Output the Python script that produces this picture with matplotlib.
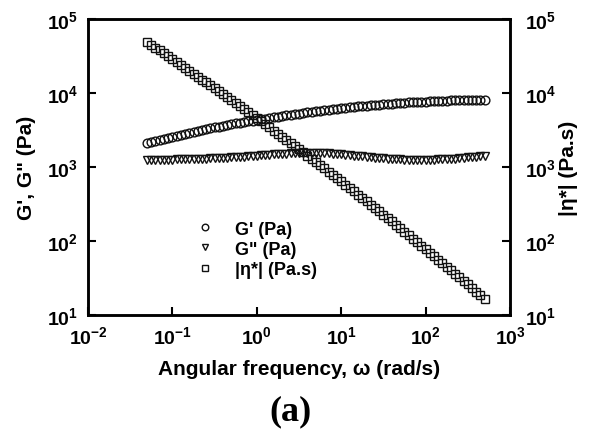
import numpy as np
import matplotlib
matplotlib.use("Agg")
import matplotlib.pyplot as plt

plt.rcParams['font.family'] = ['Liberation Sans', 'DejaVu Sans']
plt.rcParams['font.weight'] = 'bold'
plt.rcParams['mathtext.fontset'] = 'custom'
plt.rcParams['mathtext.rm'] = 'Liberation Sans:bold'
plt.rcParams['mathtext.it'] = 'Liberation Sans:bold:italic'
plt.rcParams['mathtext.bf'] = 'Liberation Sans:bold'
plt.rcParams['axes.unicode_minus'] = False

# angular frequency (rad/s)
omega = [0.0501, 0.0562, 0.0631, 0.0708, 0.0794, 0.0891, 0.1, 0.112, 0.126, 0.141,
         0.158, 0.178, 0.2, 0.224, 0.251, 0.282, 0.316, 0.355, 0.398, 0.447,
         0.501, 0.562, 0.631, 0.708, 0.794, 0.891, 1.0, 1.12, 1.26, 1.41,
         1.58, 1.78, 2.0, 2.24, 2.51, 2.82, 3.16, 3.55, 3.98, 4.47,
         5.01, 5.62, 6.31, 7.08, 7.94, 8.91, 10.0, 11.2, 12.6, 14.1,
         15.8, 17.8, 20.0, 22.4, 25.1, 28.2, 31.6, 35.5, 39.8, 44.7,
         50.1, 56.2, 63.1, 70.8, 79.4, 89.1, 100, 112, 126, 141,
         158, 178, 200, 224, 251, 282, 316, 355, 398, 447,
         501]

# storage modulus G' (Pa)
g1 = [2080, 2178, 2265, 2344, 2421, 2495, 2570, 2649, 2729, 2812,
      2891, 2972, 3062, 3148, 3236, 3327, 3420, 3524, 3614, 3698,
      3784, 3873, 3963, 4055, 4150, 4236, 4325, 4416, 4508, 4603,
      4699, 4797, 4898, 4989, 5082, 5176, 5272, 5370, 5470, 5559,
      5649, 5741, 5834, 5929, 6026, 6124, 6223, 6310, 6397, 6486,
      6577, 6668, 6745, 6823, 6902, 6982, 7063, 7129, 7194, 7261,
      7328, 7396, 7464, 7516, 7568, 7621, 7674, 7727, 7780, 7816,
      7852, 7889, 7925, 7962, 7998, 8035, 8072, 8091, 8110, 8128,
      8147]

# loss modulus G'' (Pa)
g2 = [1245, 1247, 1250, 1253, 1256, 1259, 1262, 1265, 1271, 1274,
      1279, 1282, 1288, 1294, 1300, 1306, 1312, 1321, 1330, 1340,
      1349, 1358, 1371, 1384, 1396, 1409, 1422, 1435, 1449, 1466,
      1479, 1493, 1507, 1521, 1535, 1545, 1556, 1563, 1567, 1567,
      1563, 1556, 1545, 1531, 1517, 1500, 1483, 1466, 1445, 1426,
      1406, 1387, 1368, 1352, 1337, 1321, 1306, 1294, 1282, 1274,
      1265, 1259, 1256, 1253, 1253, 1253, 1256, 1259, 1262, 1268,
      1274, 1282, 1291, 1303, 1315, 1330, 1346, 1361, 1377, 1393,
      1406]

# complex viscosity |eta*| (Pa.s)
eta = [48350, 44630, 41010, 37550, 34330, 31360, 28630, 26160, 23920, 21860,
       19950, 18200, 16650, 15200, 13880, 12680, 11580, 10610, 9673, 8805,
       8017, 7298, 6646, 6051, 5512, 5010, 4551, 4139, 3761, 3420,
       3108, 2825, 2568, 2330, 2113, 1917, 1739, 1577, 1430, 1293,
       1169, 1058, 956.5, 865.0, 782.3, 707.5, 639.7, 577.3, 521.0, 470.1,
       424.4, 383.0, 345.0, 310.8, 279.9, 252.1, 227.2, 204.2, 183.6, 165.1,
       148.4, 133.4, 120.0, 107.6, 96.6, 86.7, 77.8, 69.8, 62.6, 56.1,
       50.2, 44.96, 40.25, 36.04, 32.28, 28.91, 25.88, 23.12, 20.67, 18.47,
       16.50]

fig = plt.figure(figsize=(5.92, 4.39), dpi=100)
ax = fig.add_axes([0.1486, 0.2802, 0.7129, 0.6742])
ax2 = ax.twinx()

mk = dict(linestyle='none', markerfacecolor='none', markeredgecolor='#111111',
          markeredgewidth=1.0)
l1, = ax.plot(omega, g1, marker='o', markersize=6.3, label="G' (Pa)", **mk)
l2, = ax.plot(omega, g2, marker='v', markersize=6.3, label='G" (Pa)', **mk)
l3, = ax2.plot(omega, eta, marker='s', markersize=5.8, label='|\u03b7*| (Pa.s)', **mk)

for a in (ax, ax2):
    a.set_xscale('log')
    a.set_yscale('log')
    a.set_xlim(1e-2, 1e3)
    a.set_ylim(1e1, 1e5)
    a.minorticks_off()
    for s in a.spines.values():
        s.set_linewidth(1.8)

ax.tick_params(axis='both', which='major', direction='in', length=6, width=1.5,
               labelsize=14, pad=7, right=False, top=False)
ax2.tick_params(axis='y', which='major', direction='in', length=6, width=1.5,
                labelsize=14, pad=11)

ax.set_xlabel('Angular frequency, \u03c9 (rad/s)', fontsize=15, fontweight='bold', labelpad=9)
ax.set_ylabel('G\', G" (Pa)', fontsize=15, fontweight='bold', labelpad=8)
ax2.set_ylabel('|\u03b7*| (Pa.s)', fontsize=15, fontweight='bold', labelpad=2)

ax2.legend(handles=[l1, l2, l3], loc='center left', bbox_to_anchor=(0.255, 0.222),
           frameon=False, fontsize=13, handlelength=1.0, handletextpad=1.2,
           labelspacing=0.18, borderpad=0, borderaxespad=0, markerscale=0.75)

fig.text(0.49, 0.063, '(a)', fontsize=26, fontweight='bold',
         family='Liberation Serif', ha='center', va='center')

fig.savefig('out.png', dpi=100)
